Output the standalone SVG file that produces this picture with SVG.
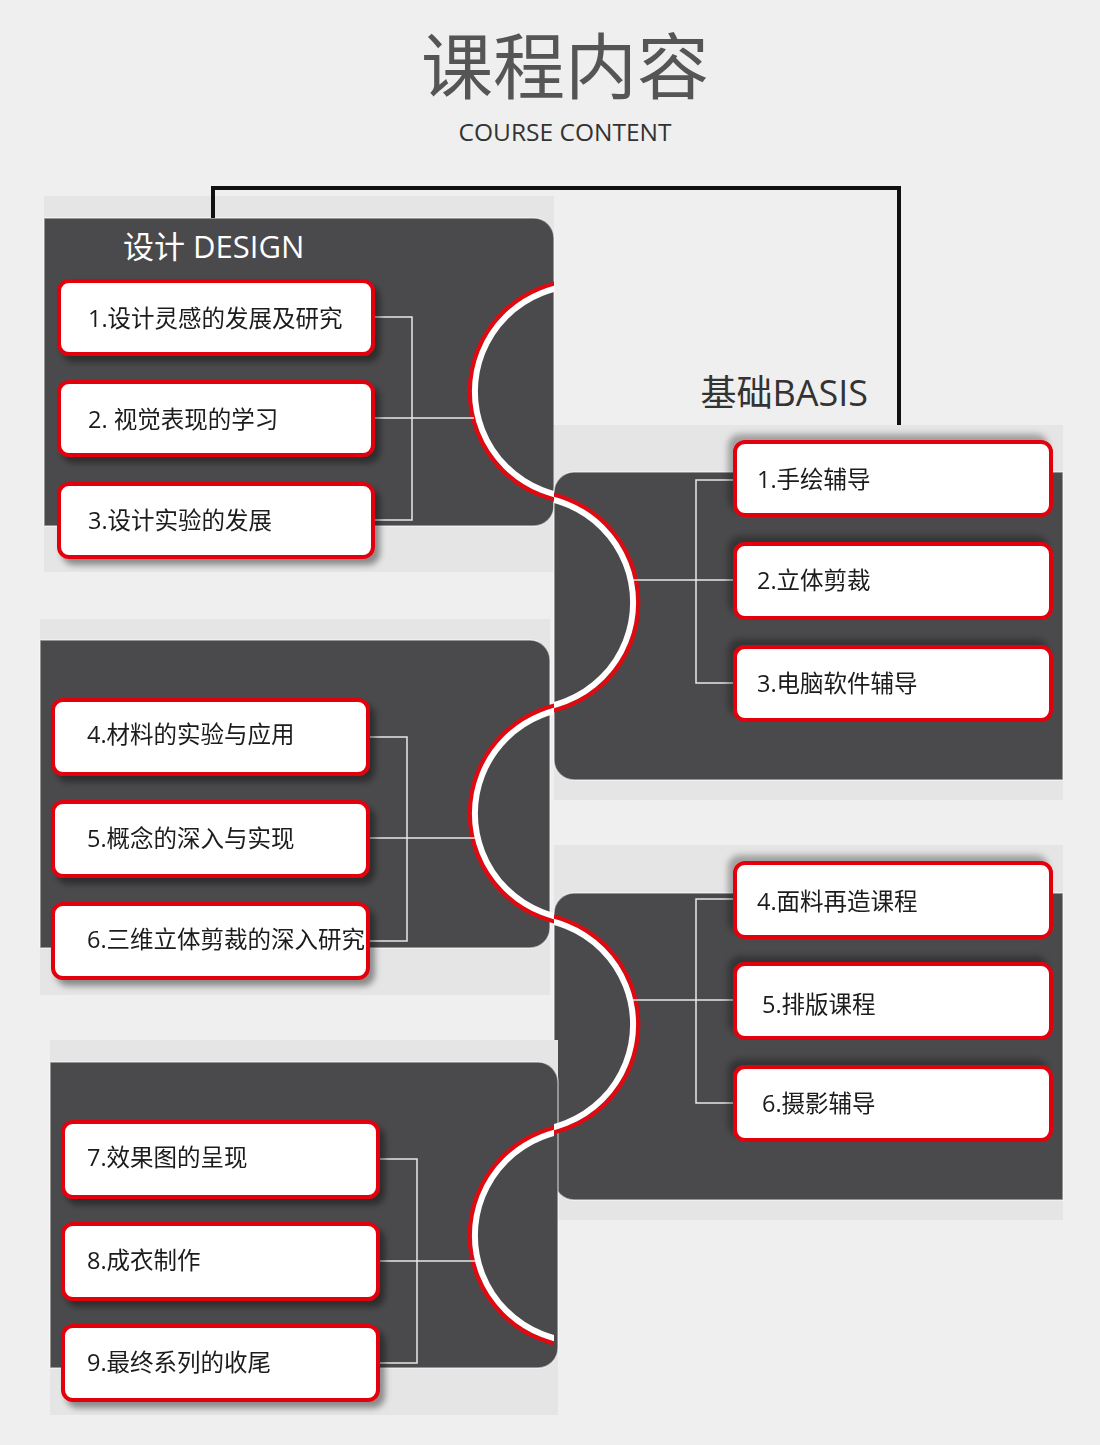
<svg xmlns="http://www.w3.org/2000/svg" width="1100" height="1445" viewBox="0 0 1100 1445">
<style>
.band{fill:#e5e5e6}
.panel{fill:#4a4a4c;stroke:#ffffff;stroke-opacity:.55;stroke-width:1.5}
.box{fill:#ffffff;stroke:#e3000f;stroke-width:4}
.lbl{font-family:"Open Sans","Noto Sans CJK SC",sans-serif;font-size:23.5px;fill:#1a1a1a}
.conn{fill:none;stroke:#e8e8e8;stroke-width:1.5}
.red{fill:none;stroke:#dd0a12;stroke-width:4.5}
.white{fill:none;stroke:#ffffff;stroke-width:6}
</style>
<defs>
<filter id="shL" x="-10%" y="-20%" width="130%" height="160%">
<feDropShadow dx="5" dy="6" stdDeviation="3" flood-color="#000" flood-opacity="0.4"/>
</filter>
<filter id="shR" x="-10%" y="-40%" width="130%" height="160%">
<feDropShadow dx="-5" dy="-6" stdDeviation="3" flood-color="#000" flood-opacity="0.3"/>
</filter>
<clipPath id="clipL"><rect x="0" y="0" width="554" height="1445"/></clipPath>
<clipPath id="clipR"><rect x="554" y="0" width="546" height="1445"/></clipPath>
</defs>
<rect x="0" y="0" width="1100" height="1445" fill="#efefef"/>

<g id="header">
<text x="565" y="93" text-anchor="middle" font-family="Noto Sans CJK SC, sans-serif" font-size="72" fill="#555555">课程内容</text>
<text x="565" y="141" text-anchor="middle" font-family="Open Sans, sans-serif" font-size="24.5" fill="#333333">COURSE CONTENT</text>
</g>

<g id="panels">
<rect class="band" x="44" y="196" width="510" height="376"/>
<path class="panel" d="M44,218 H534 A20,20 0 0 1 554,238 V506 A20,20 0 0 1 534,526 H44 Z"/>
<rect class="band" x="554" y="425" width="509" height="375"/>
<path class="panel" d="M1063,472 H574 A20,20 0 0 0 554,492 V760 A20,20 0 0 0 574,780 H1063 Z"/>
<rect class="band" x="40" y="619" width="510" height="376"/>
<path class="panel" d="M40,640 H530 A20,20 0 0 1 550,660 V928 A20,20 0 0 1 530,948 H40 Z"/>
<rect class="band" x="554" y="845" width="509" height="375"/>
<path class="panel" d="M1063,893 H574 A20,20 0 0 0 554,913 V1180 A20,20 0 0 0 574,1200 H1063 Z"/>
<rect class="band" x="50" y="1040" width="508" height="375"/>
<path class="panel" d="M50,1062 H538 A20,20 0 0 1 558,1082 V1348 A20,20 0 0 1 538,1368 H50 Z"/>
</g>

<g id="wave">
<g clip-path="url(#clipL)">
<circle class="red" cx="580.9" cy="391.5" r="111"/>
<circle class="white" cx="580.9" cy="391.5" r="106"/>
<circle class="red" cx="580.9" cy="813.5" r="111"/>
<circle class="white" cx="580.9" cy="813.5" r="106"/>
<circle class="red" cx="580.9" cy="1235.5" r="111"/>
<circle class="white" cx="580.9" cy="1235.5" r="106"/>
</g>
<g clip-path="url(#clipR)">
<circle class="red" cx="527.1" cy="602.5" r="111"/>
<circle class="white" cx="527.1" cy="602.5" r="106"/>
<circle class="red" cx="527.1" cy="1024.5" r="111"/>
<circle class="white" cx="527.1" cy="1024.5" r="106"/>
</g>
</g>

<g id="connectors">
<path d="M213,218 V188 H899 V425" fill="none" stroke="#111111" stroke-width="4"/>
<path class="conn" d="M375,317 H412 V520 H375 M375,418 H474"/>
<path class="conn" d="M735,480 H696 V683 H735 M735,580 H633"/>
<path class="conn" d="M370,737 H407 V941 H370 M370,838 H475"/>
<path class="conn" d="M735,899 H696 V1103 H735 M735,1000 H633"/>
<path class="conn" d="M380,1159 H417 V1363 H380 M380,1261 H475"/>
</g>

<g id="titles">
<text x="123" y="258" font-family="Open Sans, Noto Sans CJK SC, sans-serif" font-size="31" fill="#ffffff">设计 DESIGN</text>
<text x="868" y="406" text-anchor="end" font-family="Open Sans, Noto Sans CJK SC, sans-serif" font-size="36" fill="#333333">基础BASIS</text>
</g>

<g id="d1" filter="url(#shL)"><rect class="box" x="59" y="281" width="314" height="73" rx="10"/><text class="lbl" x="88" y="327">1.设计灵感的发展及研究</text></g>
<g id="d2" filter="url(#shL)"><rect class="box" x="59" y="382" width="314" height="73" rx="10"/><text class="lbl" x="88" y="428">2. 视觉表现的学习</text></g>
<g id="d3" filter="url(#shL)"><rect class="box" x="59" y="484" width="314" height="73" rx="10"/><text class="lbl" x="88" y="529">3.设计实验的发展</text></g>

<g id="b1" filter="url(#shR)"><rect class="box" x="735" y="442" width="316" height="73" rx="10"/><text class="lbl" x="757" y="488">1.手绘辅导</text></g>
<g id="b2" filter="url(#shR)"><rect class="box" x="735" y="544" width="316" height="74" rx="10"/><text class="lbl" x="757" y="589">2.立体剪裁</text></g>
<g id="b3" filter="url(#shR)"><rect class="box" x="735" y="647" width="316" height="73" rx="10"/><text class="lbl" x="757" y="692">3.电脑软件辅导</text></g>

<g id="d4" filter="url(#shL)"><rect class="box" x="53" y="700" width="315" height="74" rx="10"/><text class="lbl" x="87" y="743">4.材料的实验与应用</text></g>
<g id="d5" filter="url(#shL)"><rect class="box" x="53" y="802" width="315" height="74" rx="10"/><text class="lbl" x="87" y="847">5.概念的深入与实现</text></g>
<g id="d6" filter="url(#shL)"><rect class="box" x="53" y="904" width="315" height="74" rx="10"/><text class="lbl" x="87" y="948">6.三维立体剪裁的深入研究</text></g>

<g id="b4" filter="url(#shR)"><rect class="box" x="735" y="863" width="316" height="74" rx="10"/><text class="lbl" x="757" y="910">4.面料再造课程</text></g>
<g id="b5" filter="url(#shR)"><rect class="box" x="735" y="964" width="316" height="74" rx="10"/><text class="lbl" x="762" y="1013">5.排版课程</text></g>
<g id="b6" filter="url(#shR)"><rect class="box" x="735" y="1067" width="316" height="73" rx="10"/><text class="lbl" x="762" y="1112">6.摄影辅导</text></g>

<g id="d7" filter="url(#shL)"><rect class="box" x="63" y="1122" width="315" height="75" rx="10"/><text class="lbl" x="87" y="1166">7.效果图的呈现</text></g>
<g id="d8" filter="url(#shL)"><rect class="box" x="63" y="1224" width="315" height="75" rx="10"/><text class="lbl" x="87" y="1269">8.成衣制作</text></g>
<g id="d9" filter="url(#shL)"><rect class="box" x="63" y="1326" width="315" height="74" rx="10"/><text class="lbl" x="87" y="1371">9.最终系列的收尾</text></g>
</svg>
